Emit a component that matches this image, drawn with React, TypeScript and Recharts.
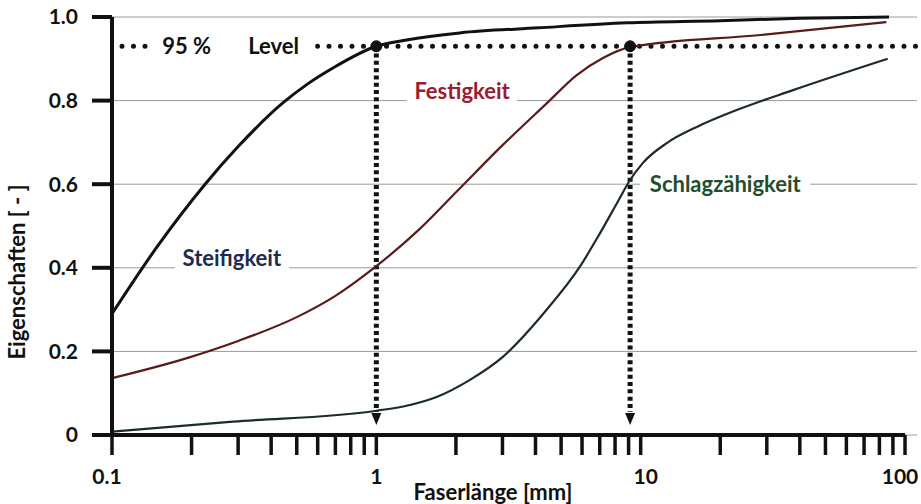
import React from "react";
import {
  CartesianGrid,
  Line,
  LineChart,
  ReferenceDot,
  ReferenceLine,
  XAxis,
  YAxis,
} from "recharts";

// Fiber length in mm (log scale) vs normalised property
const steifigkeitX = [0.1, 0.148, 0.225, 0.3, 0.444, 0.55, 0.685, 1.0, 1.3, 2.07, 4.1, 8.9, 20, 40, 87];
const steifigkeitY = [0.29, 0.45, 0.6, 0.69, 0.795, 0.84, 0.878, 0.93, 0.945, 0.962, 0.974, 0.986, 0.991, 0.997, 1.0];

const festigkeitX = [0.1, 0.192, 0.3, 0.5, 0.7, 1.0, 1.46, 2.04, 3.01, 4.42, 5.73, 7.2, 9.12, 28.4, 85];
const festigkeitY = [0.136, 0.184, 0.225, 0.282, 0.333, 0.404, 0.493, 0.586, 0.694, 0.794, 0.861, 0.902, 0.928, 0.957, 0.988];

const schlagX = [0.1, 0.287, 1.0, 1.3, 1.69, 2.26, 3.01, 4.4, 5.88, 7.02, 8.14, 9.12, 10.2, 12.6, 16.3, 23.2, 37.7, 86];
const schlagY = [0.008, 0.032, 0.058, 0.07, 0.091, 0.132, 0.187, 0.299, 0.402, 0.483, 0.555, 0.61, 0.651, 0.699, 0.737, 0.778, 0.825, 0.9];

const xTicks = [
  0.1, 0.2, 0.3, 0.4, 0.5, 0.6, 0.7, 0.8, 0.9,
  1, 2, 3, 4, 5, 6, 7, 8, 9,
  10, 20, 30, 40, 50, 60, 70, 80, 90,
  100,
];
const xTickLabels: Record<string, string> = { "0.1": "0.1", "1": "1", "10": "10", "100": "100" };
const xTickShift: Record<string, number> = { "0.1": -5, "1": 0, "10": 5, "100": -5 };
const yTicks = [0, 0.2, 0.4, 0.6, 0.8, 1.0];

const level = 0.93;
const levelX = [1.0, 9.12];

const toPoints = (xs: number[], ys: number[]) => xs.map((x, i) => ({ x, y: ys[i] }));

const steifigkeit = toPoints(steifigkeitX, steifigkeitY);
const festigkeit = toPoints(festigkeitX, festigkeitY);
const schlag = toPoints(schlagX, schlagY);

const INK = "#111";
const FONT = { fontFamily: "Lato, 'Open Sans', sans-serif", fontWeight: 700 };

const boxLabel =
  (text: string, w: number, color: string, mode: "base" | "mid") =>
  (props: any) => {
    const { cx, cy } = props;
    const baseY = mode === "base" ? cy - 2 : cy + 8;
    return (
      <g>
        <rect x={cx - w / 2} y={baseY - 20} width={w} height={26} fill="#fff" />
        <text x={cx} y={baseY} textAnchor="middle" fill={color} fontSize={22} {...FONT}>
          {text}
        </text>
      </g>
    );
  };

const levelLabel = (props: any) => {
  const { cx, cy } = props;
  return (
    <g>
      <rect x={cx - 78} y={cy - 14} width={163} height={28} fill="#fff" />
      <text x={cx - 68} y={cy + 8} fill={INK} fontSize={22} {...FONT}>
        95 %
      </text>
      <text x={cx + 18} y={cy + 8} fill={INK} fontSize={22} {...FONT}>
        Level
      </text>
    </g>
  );
};

const arrowHead = (props: any) => {
  const { cx, cy } = props;
  return <polygon points={`${cx - 5},${cy - 12} ${cx + 5},${cy - 12} ${cx},${cy}`} fill={INK} />;
};

const XTick = (props: any) => {
  const { x, y, payload } = props;
  const key = String(payload.value);
  const label = xTickLabels[key];
  if (!label) return <g />;
  return (
    <text
      x={x + (xTickShift[key] ?? 0)}
      y={y}
      dy="0.71em"
      textAnchor="middle"
      fill={INK}
      fontSize={21}
      {...FONT}
    >
      {label}
    </text>
  );
};

export default function App() {
  return (
    <div style={{ position: "absolute", left: 0, top: 0, background: "#fff", ...FONT }}>
      <LineChart width={921} height={504} margin={{ top: 17, right: 4, bottom: 0, left: 0 }}>
        <CartesianGrid horizontal vertical={false} stroke="#9a9a9a" strokeWidth={1} />
        <XAxis
          type="number"
          dataKey="x"
          scale="log"
          domain={[0.1, 111]}
          allowDataOverflow
          ticks={xTicks}
          interval={0}
          height={69}
          axisLine={false}
          tickLine={{ stroke: INK, strokeWidth: 3.5 }}
          tickSize={20}
          tickMargin={14}
          tick={<XTick />}
          label={{
            content: () => (
              <text x={493} y={500} textAnchor="middle" fill={INK} fontSize={22} {...FONT}>
                Faserlänge [mm]
              </text>
            ),
          }}
        />
        <YAxis
          type="number"
          domain={[0, 1]}
          ticks={yTicks}
          width={112}
          axisLine={{ stroke: INK, strokeWidth: 4 }}
          tickLine={{ stroke: INK, strokeWidth: 4 }}
          tickSize={20}
          tickMargin={14}
          tick={{ fill: INK, fontSize: 21, fontWeight: 700 }}
          tickFormatter={(v: number) => (v === 0 ? "0" : v.toFixed(1))}
          label={{
            content: () => (
              <text
                transform="translate(25, 272) rotate(-90)"
                textAnchor="middle"
                fill={INK}
                fontSize={22}
                {...FONT}
              >
                Eigenschaften [ - ]
              </text>
            ),
          }}
        />

        <ReferenceLine
          segment={[{ x: 0.1, y: 0 }, { x: 100, y: 0 }]}
          stroke={INK}
          strokeWidth={4}
        />

        <ReferenceLine
          segment={[{ x: 0.1, y: level }, { x: 111, y: level }]}
          stroke={INK}
          strokeWidth={5}
          strokeDasharray="0 11.5"
          strokeDashoffset={-10}
          strokeLinecap="round"
        />
        {levelX.map((lx) => (
          <ReferenceLine
            key={`v${lx}`}
            segment={[{ x: lx, y: level }, { x: lx, y: 0.055 }]}
            stroke={INK}
            strokeWidth={5}
            strokeDasharray="4 3.3"
          />
        ))}
        {levelX.map((lx) => (
          <ReferenceDot key={`a${lx}`} x={lx} y={0.024} r={5} shape={arrowHead} />
        ))}

        <ReferenceDot x={0.28} y={level} r={5} shape={levelLabel} />
        <ReferenceDot x={2.11} y={0.8} r={5} shape={boxLabel("Festigkeit", 110, "#9b1c31", "base")} />
        <ReferenceDot x={0.284} y={0.4} r={5} shape={boxLabel("Steifigkeit", 114, "#1f2a50", "base")} />
        <ReferenceDot x={20.9} y={0.6} r={5} shape={boxLabel("Schlagzähigkeit", 170, "#1f4e2c", "mid")} />

        <Line
          data={steifigkeit}
          dataKey="y"
          type="monotone"
          stroke={INK}
          strokeWidth={3}
          dot={false}
          isAnimationActive={false}
        />
        <Line
          data={festigkeit}
          dataKey="y"
          type="monotone"
          stroke="#5a1a1a"
          strokeWidth={2.2}
          dot={false}
          isAnimationActive={false}
        />
        <Line
          data={schlag}
          dataKey="y"
          type="monotone"
          stroke="#1c2e1f"
          strokeWidth={2.2}
          dot={false}
          isAnimationActive={false}
        />

        {levelX.map((lx) => (
          <ReferenceDot key={`c${lx}`} x={lx} y={level} r={5.5} fill={INK} stroke={INK} />
        ))}
      </LineChart>
    </div>
  );
}
